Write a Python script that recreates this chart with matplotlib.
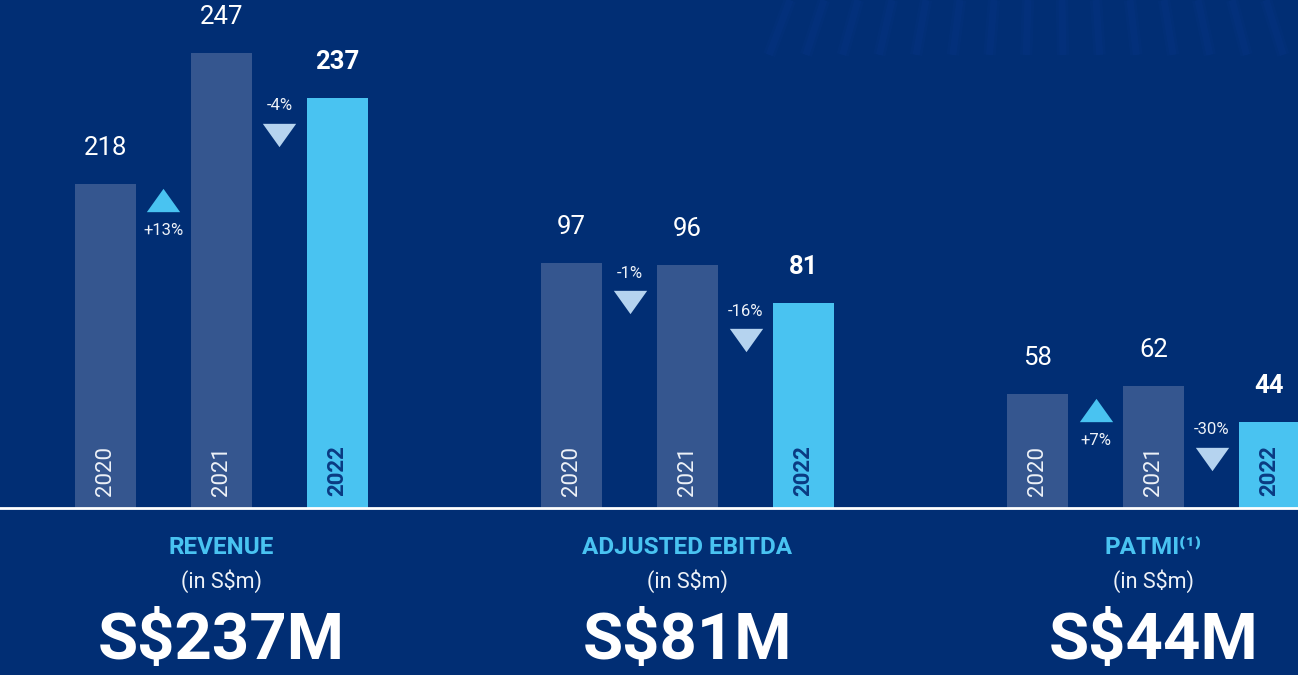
import matplotlib.pyplot as plt
from matplotlib.lines import Line2D
from matplotlib.transforms import offset_copy

# values (S$m)
years = ['2020', '2021', '2022']
metrics = ['REVENUE', 'ADJUSTED EBITDA', 'PATMI']
revenue = [218, 247, 237]
ebitda = [97, 96, 81]
patmi = [58, 62, 44]
changes = [['+13%', '-4%'], ['-1%', '-16%'], ['+7%', '-30%']]
headlines = ['S$237M', 'S$81M', 'S$44M']

# each panel has its own scale on the slide
ylims = [(146.6, 258.6), (0, 200.8), (0, 259)]

bg = '#012e74'
bar_old = '#35568f'
bar_new = '#49c3f1'
tri_down = '#b5d3ef'
txt = '#eef2f8'

plt.rcParams['font.family'] = ['Roboto', 'DejaVu Sans']

W, H = 1298, 675
fig = plt.figure(figsize=(W / 100, H / 100), dpi=100, facecolor=bg)

# faint light rays at the top right (decoration)
for k in range(16):
    x0 = 790 + k * 34
    for w, a in [(9, 0.04), (5, 0.05)]:
        fig.add_artist(Line2D([x0 / W, (x0 + (x0 - 1050) * 0.08) / W],
                              [1, 1 - 55 / H], color='#1f52c8', linewidth=w,
                              alpha=a, solid_capstyle='butt'))

up_marker = [(-1, -0.7), (1, -0.7), (0, 0.7)]
down_marker = [(-1, 0.7), (1, 0.7), (0, -0.7)]

def px(p):
    # pixels -> points
    return p * 72 / 100

for g, vals in enumerate([revenue, ebitda, patmi]):
    left = 47.5 + 466 * g
    ax = fig.add_axes([left / W, 167 / H, 348 / W, 508 / H])
    ax.set_facecolor('none')
    ax.set_xlim(-0.5, 2.5)
    ax.set_ylim(*ylims[g])
    ax.axis('off')

    colors = [bar_old, bar_old, bar_new]
    ax.bar(range(3), vals, width=0.526, color=colors, bottom=0)

    for i, v in enumerate(vals):
        last = i == 2
        ax.annotate(str(v), xy=(i, v), xytext=(0, px(36)), textcoords='offset points',
                    ha='center', va='center', fontsize=18.5,
                    fontweight='bold' if last else 'normal', color='white')
        ax.annotate(years[i], xy=(i, 0), xycoords=('data', 'axes fraction'),
                    xytext=(0, px(37)), textcoords='offset points',
                    rotation=90, ha='center', va='center', fontsize=16,
                    fontweight='bold' if last else 'normal',
                    color='#0a3a82' if last else txt)

    for j in range(2):
        lo = min(vals[j], vals[j + 1])
        up = vals[j + 1] > vals[j]
        off = 16 if up else 37
        tr = offset_copy(ax.transData, fig=fig, x=0, y=-px(off), units='points')
        ax.plot([j + 0.5], [lo], transform=tr, linestyle='none',
                marker=up_marker if up else down_marker, markersize=24,
                markeredgewidth=0, color=bar_new if up else tri_down)
        lab_off = off + 30 if up else off - 29
        ax.annotate(changes[g][j], xy=(j + 0.5, lo), xytext=(0, -px(lab_off)),
                    textcoords='offset points', ha='center', va='center',
                    fontsize=12, color=txt)

    name = metrics[g] + ('⁽¹⁾' if metrics[g] == 'PATMI' else '')
    ax.annotate(name, xy=(1, 0), xycoords=('data', 'axes fraction'),
                xytext=(0, -px(39)), textcoords='offset points', ha='center', va='center',
                fontsize=17.5, fontweight='bold', color=bar_new)
    ax.annotate('(in S$m)', xy=(1, 0), xycoords=('data', 'axes fraction'),
                xytext=(0, -px(73)), textcoords='offset points', ha='center', va='center',
                fontsize=15.5, fontweight='normal', color=txt)
    ax.annotate(headlines[g], xy=(1, 0), xycoords=('data', 'axes fraction'),
                xytext=(0, -px(134)), textcoords='offset points', ha='center', va='center',
                fontsize=47, fontweight='bold', color='white')

fig.add_artist(Line2D([0, 1], [167 / H, 167 / H], color='white', linewidth=2))

fig.savefig('out.png', dpi=100, facecolor=bg)
